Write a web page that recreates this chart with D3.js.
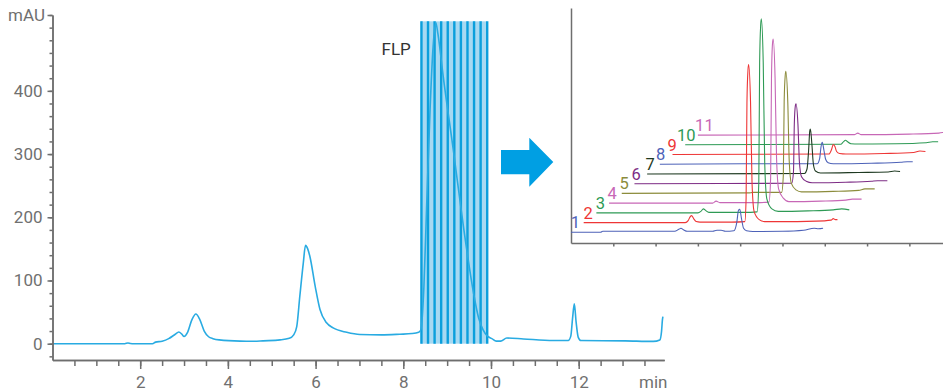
<!DOCTYPE html>
<html>
<script src='https://d3js.org/d3.v7.min.js'></script>
<style>
  body {margin: 0; background: #fff;}
  text {font-family: Roboto, sans-serif;}
  .axis path, .axis line {stroke: #6e6e6e; stroke-width: 1.5;}
  .axis text {fill: #707070; font-size: 17px;}
</style>
<body onload='init()'>

<svg>
</svg>

<script>

// main chromatogram: [time (min), signal (mAU)]
var mainTrace = [
  [0, 0], [1.65, 0], [1.72, 1.2], [1.78, 0.3], [1.85, 0], [2.28, 0], [2.35, 2.5], [2.5, 4],
  [2.65, 8], [2.8, 15], [2.88, 18.5], [2.95, 15], [3.0, 11.5], [3.08, 18], [3.18, 38],
  [3.27, 47], [3.36, 38], [3.46, 20], [3.56, 11], [3.66, 8], [3.8, 6], [4.28, 4], [4.6, 3.8],
  [4.8, 4.5], [5.19, 6], [5.40, 8.5], [5.50, 14], [5.57, 27], [5.64, 75], [5.72, 128],
  [5.77, 155.5], [5.82, 150], [5.87, 138], [5.99, 91], [6.10, 54], [6.25, 33], [6.40, 25],
  [6.71, 18], [7.01, 14.5], [7.5, 14], [7.92, 15], [8.2, 16], [8.35, 18], [8.40, 22],
  [8.47, 90], [8.53, 212], [8.61, 370], [8.68, 470], [8.74, 508], [8.79, 490], [8.91, 423],
  [9.14, 307], [9.37, 186], [9.60, 81], [9.72, 40], [9.82, 22], [9.92, 12], [10.02, 8],
  [10.12, 4], [10.22, 4], [10.36, 9], [10.74, 7.5], [11.42, 5], [11.76, 5], [11.82, 12],
  [11.86, 40], [11.90, 63], [11.94, 35], [11.99, 10], [12.05, 5], [13.06, 4.5], [13.7, 3.6],
  [13.85, 6], [13.89, 20], [13.91, 38], [13.92, 43]
];

// collected fractions (min)
var fractionEdges = [8.40, 8.55, 8.70, 8.85, 9.00, 9.15, 9.30, 9.45, 9.60, 9.75, 9.90];
var fractionTop = 510;
var peakLabel = "FLP";

var yTickValues = [0, 100, 200, 300, 400, 520];
var yTickLabels = ["0", "100", "200", "300", "400", "mAU"];
var xTickValues = [2, 4, 6, 8, 10, 12];
var xTickLabels = ["2", "4", "6", "8", "10", "12"];
var xUnit = "min";

// inset: re-analysed fractions, [relative time, height]
var frac1 = [[0,0],[0.70,0],[0.75,1],[2.45,1],[2.55,3],[2.60,4],[2.66,2.5],[2.75,1],[3.35,1],[3.45,2],[3.55,2],[3.65,1],[3.85,1.5],[3.92,10],[3.96,22],[3.99,23],[4.03,14],[4.08,4],[4.15,1.5],[4.3,0.8],[5.0,1],[5.5,2],[5.75,4],[5.85,3.5],[5.96,4]];
var frac2 = [[0,0],[2.40,0],[2.47,2],[2.52,6],[2.55,7],[2.60,4],[2.66,1],[2.75,0.5],[3.5,0.5],[3.81,1],[3.84,24],[3.86,120],[3.885,153],[3.90,158],[3.945,120],[3.98,40],[4.03,11],[4.15,3],[4.28,1],[4.6,1],[5.5,1.5],[5.85,2.5],[5.9,4],[5.95,3],[6.0,3]];
var frac3 = [[0,0],[2.40,0],[2.47,1.5],[2.53,4],[2.58,2.5],[2.66,0.5],[3.5,0.5],[3.80,1],[3.84,30],[3.86,150],[3.885,188],[3.90,194],[3.945,150],[3.98,50],[4.03,14],[4.15,4],[4.3,1.5],[5.0,2],[5.6,3],[5.8,4],[5.98,3]];
var frac4 = [[0,0],[2.45,0],[2.53,2],[2.62,0.5],[3.5,0.5],[3.78,1],[3.82,25],[3.84,125],[3.865,160],[3.88,164],[3.925,125],[3.96,45],[4.01,14],[4.12,5],[4.25,1.5],[5.0,2],[5.6,3],[5.75,4],[5.97,4]];
var frac5 = [[0,0],[3.0,0.5],[3.10,1],[3.78,1],[3.82,18],[3.84,92],[3.865,118],[3.88,122],[3.925,92],[3.96,32],[4.01,10],[4.12,3.5],[4.25,1.5],[5.0,2],[5.6,3],[5.75,4.5],[5.98,4.5]];
var frac6 = [[0,0],[3.72,0.5],[3.76,12],[3.78,60],[3.805,78],[3.82,80],[3.865,60],[3.90,22],[3.95,7],[4.06,2.5],[4.2,1],[5.0,1.5],[5.6,2.5],[5.75,3],[5.98,3]];
var frac7 = [[0,0],[3.72,0.5],[3.78,5],[3.82,25],[3.845,43],[3.86,45],[3.895,30],[3.93,10],[3.98,3],[4.1,1],[5.0,1.5],[5.7,2],[5.85,3],[5.98,2.5]];
var frac8 = [[0,0],[2.0,0.5],[3.72,0.5],[3.78,6],[3.81,17],[3.84,22],[3.88,14],[3.92,5],[3.98,1.5],[4.1,0.5],[5.0,1],[5.7,2],[5.85,2.5],[5.98,2.5]];
var frac9 = [[0,0],[3.70,0.5],[3.76,5],[3.80,10],[3.84,8],[3.88,3],[3.95,1],[4.1,0.5],[5.0,1],[5.7,2],[5.85,3.5],[5.98,3]];
var frac10 = [[0,0],[3.68,0.5],[3.74,3],[3.79,4.5],[3.84,3],[3.92,1],[4.1,0.8],[5.0,1],[5.7,2],[5.85,3],[5.98,3]];
var frac11 = [[0,0],[3.70,0.5],[3.78,2],[3.86,0.5],[5.0,1],[5.7,2],[5.85,3],[5.98,3.5]];
var fracNames = ["1", "2", "3", "4", "5", "6", "7", "8", "9", "10", "11"];
var insetTicks = [1, 2, 3, 4, 5, 6, 7, 8];

var fracColors = ["#4d62b8", "#ee3636", "#2e9a55", "#c767b6", "#8c8c3c", "#7d2c85",
                  "#1f3a22", "#4d62b8", "#ee3636", "#2e9a55", "#c767b6"];
// horizontal nudge of each label from its trace start (px)
var labelNudge = [4.5, 4.5, 4, 3, 2.5, 1.8, 3, 0.8, -0.3, 1, 6.5];

function init() {
  var fracs = [frac1, frac2, frac3, frac4, frac5, frac6, frac7, frac8, frac9, frac10, frac11];

  var svg = d3.select("svg")
      .attr("width", 943)
      .attr("height", 391)

  var x = d3.scaleLinear().domain([0, 13.95]).range([52.5, 664.2])
  var y = d3.scaleLinear().domain([-25.8, 520]).range([360, 15])

  // fraction stripes
  svg.append("rect")
      .attr("x", x(fractionEdges[0]))
      .attr("y", y(fractionTop))
      .attr("width", x(fractionEdges[fractionEdges.length - 1]) - x(fractionEdges[0]))
      .attr("height", y(0) - y(fractionTop))
      .attr("fill", "#a7d9f2")

  svg.selectAll("line.edge").data(fractionEdges).enter().append("line")
      .attr("class", "edge")
      .attr("x1", function(d) { return x(d) + 0.6; })
      .attr("x2", function(d) { return x(d) + 0.6; })
      .attr("y1", y(fractionTop))
      .attr("y2", y(0))
      .attr("stroke", "#0b9fdc")
      .attr("stroke-width", 2.4)

  svg.append("path").datum(mainTrace)
      .attr("fill", "none")
      .attr("stroke", "#29abe2")
      .attr("stroke-width", 1.6)
      .attr("d", d3.line().curve(d3.curveMonotoneX)
          .x(function(d) { return x(d[0]); })
          .y(function(d) { return y(d[1]); }))

  // axes
  svg.append("g").attr("class", "axis")
      .attr("transform", "translate(52.5,0)")
      .call(d3.axisLeft(y).tickValues(d3.range(-20, 521, 20)).tickSize(3).tickSizeOuter(0).tickFormat(""))
  svg.append("g").attr("class", "axis")
      .attr("transform", "translate(52.5,0)")
      .call(d3.axisLeft(y).tickValues(yTickValues).tickSize(5).tickPadding(5).tickSizeOuter(0)
          .tickFormat(function(d, i) { return yTickLabels[i]; }))
      .selectAll("text").attr("dx", function(d) { return d == 520 ? 2.5 : 0; })

  svg.append("g").attr("class", "axis")
      .attr("transform", "translate(0,360)")
      .call(d3.axisBottom(x).tickValues(d3.range(0.5, 13.6, 0.5)).tickSize(6).tickSizeOuter(0).tickFormat(""))
  svg.append("g").attr("class", "axis")
      .attr("transform", "translate(0,360)")
      .call(d3.axisBottom(x).tickValues(xTickValues).tickSize(9).tickPadding(7).tickSizeOuter(0)
          .tickFormat(function(d, i) { return xTickLabels[i]; }))

  svg.append("text")
      .attr("x", x(13.7)).attr("y", 388)
      .attr("text-anchor", "middle")
      .attr("fill", "#707070").attr("font-size", "17px")
      .text(xUnit)

  svg.append("text")
      .attr("x", x(fractionEdges[0]) - 10).attr("y", 55)
      .attr("text-anchor", "end")
      .attr("fill", "#333").attr("font-size", "17px")
      .text(peakLabel)

  // arrow
  svg.append("path")
      .attr("d", "M501,150 L529.3,150 L529.3,137.7 L553.3,162 L529.3,186.7 L529.3,174.3 L501,174.3 Z")
      .attr("fill", "#009fe3")

  // inset
  var xi = d3.scaleLinear().domain([0, 8.8]).range([571, 943.2])
  var yi = d3.scaleLinear().domain([0, 235]).range([243, 8])
  var dxStep = 0.3, dyStep = 9.72, base = 10.7;

  svg.append("g").attr("class", "axis")
      .attr("transform", "translate(571,0)")
      .call(d3.axisLeft(yi).tickValues([]).tickSizeOuter(0))
  svg.append("g").attr("class", "axis")
      .attr("transform", "translate(0,243)")
      .call(d3.axisBottom(xi).tickValues(insetTicks).tickSize(3.5).tickSizeOuter(0).tickFormat(""))

  var order = d3.range(fracs.length).reverse();
  var g = svg.append("g");
  order.forEach(function(i) {
    g.append("path").datum(fracs[i])
        .attr("fill", "none")
        .attr("stroke", fracColors[i])
        .attr("stroke-width", 1.1)
        .attr("d", d3.line().curve(d3.curveMonotoneX)
            .x(function(d) { return xi(d[0] + i * dxStep); })
            .y(function(d) { return yi(d[1] + base + i * dyStep); }))
  });

  g.selectAll("text").data(fracNames).enter().append("text")
      .attr("x", function(d, i) { return xi(i * dxStep) + labelNudge[i]; })
      .attr("y", function(d, i) { return yi(base + i * dyStep) - 4; })
      .attr("text-anchor", "middle")
      .attr("font-size", "16.5px")
      .attr("fill", function(d, i) { return fracColors[i]; })
      .text(function(d) { return d; })
}

</script>
</body>
</html>
